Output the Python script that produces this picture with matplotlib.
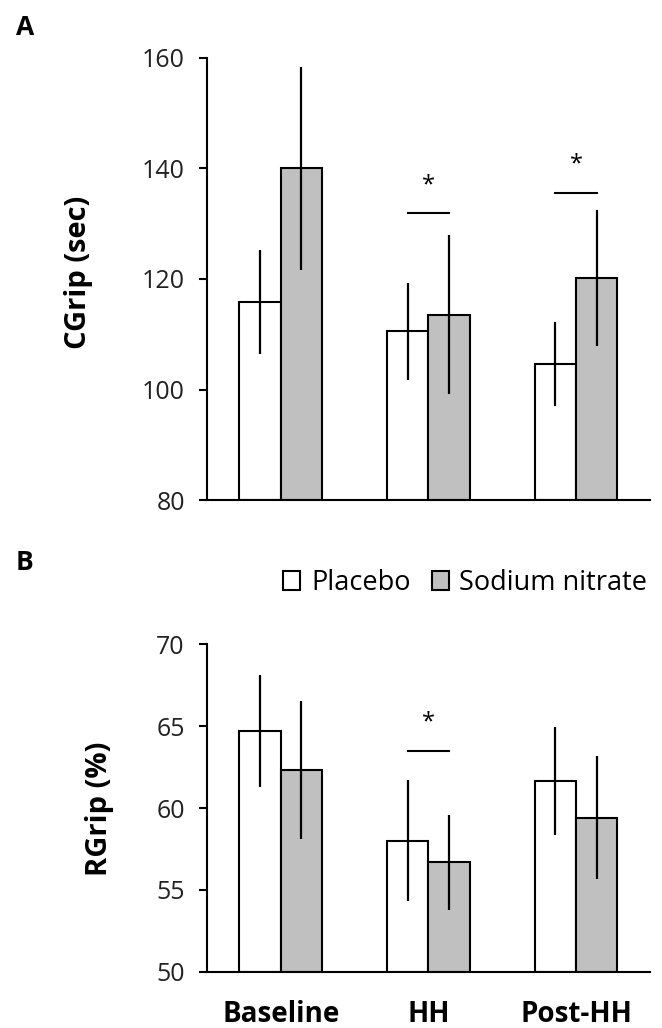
import numpy as np
import matplotlib
matplotlib.use('Agg')
import matplotlib.pyplot as plt
from matplotlib.patches import Patch

plt.rcParams['font.family'] = ['Open Sans', 'DejaVu Sans']

groups = ['Baseline', 'HH', 'Post-HH']
series = ['Placebo', 'Sodium nitrate']
colors = ['white', '#c0c0c0']

# Panel A: CGrip (sec)
cgrip_placebo = [115.8, 110.5, 104.7]
cgrip_placebo_err = [9.4, 8.7, 7.6]
cgrip_nitrate = [140.0, 113.5, 120.2]
cgrip_nitrate_err = [18.4, 14.4, 12.3]
cgrip_sig = [(1, 131.9, 137.0), (2, 135.6, 140.7)]  # group, line y, star y

# Panel B: RGrip (%)
rgrip_placebo = [64.7, 58.0, 61.65]
rgrip_placebo_err = [3.4, 3.7, 3.3]
rgrip_nitrate = [62.3, 56.7, 59.4]
rgrip_nitrate_err = [4.2, 2.9, 3.75]
rgrip_sig = [(1, 63.5, 65.2)]

W = 0.28
x = np.arange(len(groups))

fig = plt.figure(figsize=(6.62, 10.28), dpi=100)
axA = fig.add_axes([0.3127, 0.5136, 0.669, 0.430])
axB = fig.add_axes([0.3127, 0.0545, 0.669, 0.319])


def panel(ax, pl, ple, nt, nte, sig, ylim, yticks):
    for i, (vals, errs) in enumerate([(pl, ple), (nt, nte)]):
        xs = x + (i - 0.5) * W
        ax.bar(xs, np.array(vals) - ylim[0], W, bottom=ylim[0], color=colors[i],
               edgecolor='black', linewidth=1.5, zorder=2)
        ax.errorbar(xs, vals, yerr=errs, fmt='none', ecolor='black',
                    elinewidth=1.6, capsize=0, zorder=3)
    for g, ly, sy in sig:
        ax.plot([g - W / 2, g + W / 2], [ly, ly], color='black', lw=1.5)
        ax.text(g, sy, '*', ha='center', va='center', fontsize=17)
    ax.set_xlim(-0.5, 2.5)
    ax.set_ylim(*ylim)
    ax.set_yticks(yticks)
    ax.tick_params(axis='y', labelsize=18, length=6, width=1.5, direction='out',
                   pad=10, labelcolor='#222222')
    ax.tick_params(axis='x', length=0)
    for s in ['top', 'right']:
        ax.spines[s].set_visible(False)
    for s in ['left', 'bottom']:
        ax.spines[s].set_linewidth(1.5)


panel(axA, cgrip_placebo, cgrip_placebo_err, cgrip_nitrate, cgrip_nitrate_err,
      cgrip_sig, (80, 160), [80, 100, 120, 140, 160])
axA.set_xticks([])

panel(axB, rgrip_placebo, rgrip_placebo_err, rgrip_nitrate, rgrip_nitrate_err,
      rgrip_sig, (50, 70), [50, 55, 60, 65, 70])
axB.set_xticks(x)
axB.set_xticklabels(groups, fontsize=20, fontweight='bold')
axB.tick_params(axis='x', pad=20)

fig.text(0.118, 0.735, 'CGrip (sec)', rotation=90, fontsize=21, fontweight='bold',
         ha='center', va='center')
fig.text(0.151, 0.213, 'RGrip (%)', rotation=90, fontsize=21, fontweight='bold',
         ha='center', va='center')

fig.text(0.0375, 0.973, 'A', fontsize=19, fontweight='bold', ha='center', va='center')
fig.text(0.0375, 0.453, 'B', fontsize=19, fontweight='bold', ha='center', va='center')

handles = [Patch(facecolor=c, edgecolor='black', linewidth=1.5) for c in colors]
fig.legend(handles, series, loc='center right', bbox_to_anchor=(0.978, 0.433),
           frameon=False, ncol=2, fontsize=19.5, handlelength=0.63, handleheight=0.74,
           handletextpad=0.4, columnspacing=0.78, borderaxespad=0, borderpad=0)

plt.savefig('out.png', dpi=100)
plt.close()
